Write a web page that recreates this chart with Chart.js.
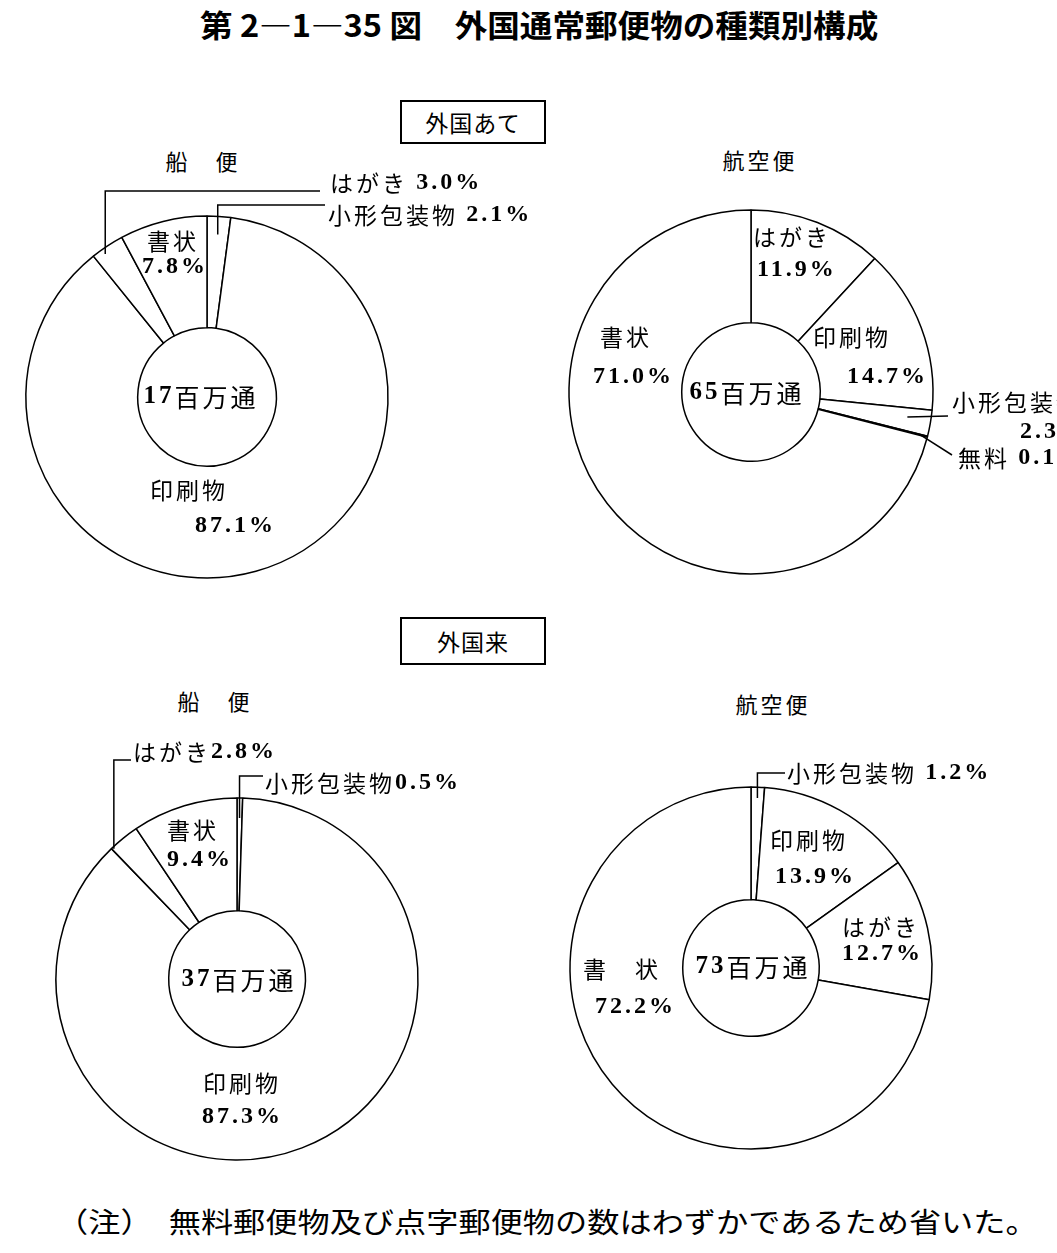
<!DOCTYPE html>
<html lang="ja">
<head>
<meta charset="utf-8">
<title>第2-1-35図 外国通常郵便物の種類別構成</title>
<script src="https://cdn.jsdelivr.net/npm/chart.js@4.4.1/dist/chart.umd.min.js"></script>
<style>
  html, body { margin: 0; padding: 0; background: #fff; }
  body { width: 1057px; height: 1253px; position: relative; overflow: hidden; font-family: "Noto Sans CJK JP", sans-serif; color: #000; }
  .abs { position: absolute; white-space: nowrap; line-height: 1; }
  .fit { transform-origin: 0 50%; }
  .title { left: 200px; top: 8px; font-size: 31px; font-weight: bold; }
  .box { border: 2px solid #000; width: 146px; height: 44px; box-sizing: border-box; display: flex; align-items: center; justify-content: center; font-size: 23px; letter-spacing: 1px; }
  .sub { font-size: 22px; letter-spacing: 3px; transform: translate(-50%, -50%); }
  .note { left: 56px; top: 1207px; font-size: 28px; }
  canvas { position: absolute; }
</style>
</head>
<body>
<div class="abs fit title" data-w="678">第 2—1—35 図　外国通常郵便物の種類別構成</div>
<div class="abs box" style="left:400px;top:100px;">外国あて</div>
<div class="abs box" style="left:400px;top:617px;height:48px;">外国来</div>
<div class="abs sub" style="left:203px;top:160px;">船　便</div>
<div class="abs sub" style="left:760px;top:159px;">航空便</div>
<div class="abs sub" style="left:215px;top:700px;">船　便</div>
<div class="abs sub" style="left:773px;top:703px;">航空便</div>
<canvas id="c1"></canvas>
<canvas id="c2"></canvas>
<canvas id="c3"></canvas>
<canvas id="c4"></canvas>
<div class="abs fit note" data-w="982">（注）　無料郵便物及び点字郵便物の数はわずかであるため省いた。</div>

<script>
// ---- データ（%、時計回り・真上から） ----
// 外国あて・船便
const seaOutCats = ['小形包装物', '印刷物', 'はがき', '書状'];
const seaOutVals = [2.1, 87.1, 3.0, 7.8];
const seaOutTotal = ['17', '百万通'];
// 外国あて・航空便
const airOutCats = ['はがき', '印刷物', '小形包装物', '無料', '書状'];
const airOutVals = [11.9, 14.7, 2.3, 0.1, 71.0];
const airOutTotal = ['65', '百万通'];
// 外国来・船便
const seaInCats = ['小形包装物', '印刷物', 'はがき', '書状'];
const seaInVals = [0.5, 87.3, 2.8, 9.4];
const seaInTotal = ['37', '百万通'];
// 外国来・航空便
const airInCats = ['小形包装物', '印刷物', 'はがき', '書状'];
const airInVals = [1.2, 13.9, 12.7, 72.2];
const airInTotal = ['73', '百万通'];

const NAME_FONT = '23px "Noto Sans CJK JP"';
const NUM_FONT = 'bold 24px "Liberation Serif"';
const CENTER_NAME_FONT = '25px "Noto Sans CJK JP"';
const CENTER_NUM_FONT = 'bold 25px "Liberation Serif"';

// 配置（中心からの相対位置）
const lay1 = {
  L: 0, T: 165, W: 528, H: 435, cx: 207, cy: 397, r: 181, hole: 69, center: [-6, 0],
  items: [
    { i: 3, at: [-60, -156], pct: [-65, -130] },
    { i: 1, at: [-57, 93], pct: [-12, 129] },
    { i: 2, inline: true, gap: ' ', at: [123, -214], leader: { t: 0.32, rf: 0.97, path: [{ v: -206 }, { h: 113 }] } },
    { i: 0, inline: true, gap: ' ', at: [121, -182], leader: { t: 0.5, rf: 0.9, path: [{ v: -192 }, { h: 118 }] } }
  ]
};
const lay2 = {
  L: 528, T: 165, W: 529, H: 435, cx: 751, cy: 392, r: 182, hole: 69, center: [-4, 1],
  items: [
    { i: 0, at: [2, -155], pct: [6, -122] },
    { i: 1, at: [62, -55], pct: [96, -15] },
    { i: 4, at: [-151, -55], pct: [-158, -15] },
    { i: 2, at: [201, 10], pct: [269, 40], leader: { t: 0.4, rf: 0.87, path: [[197, 24]] } },
    { i: 3, inline: true, gap: ' ', at: [207, 66], leader: { t: 0.5, rf: 0.96, path: [[201, 63]] } }
  ]
};
const lay3 = {
  L: 0, T: 725, W: 528, H: 460, cx: 237, cy: 979, r: 181, hole: 68, center: [2, 1],
  items: [
    { i: 3, at: [-70, -149], pct: [-70, -119] },
    { i: 1, at: [-34, 104], pct: [-35, 138] },
    { i: 0, inline: true, gap: '', at: [28, -196], leader: { t: 0.5, rf: 0.89, path: [{ v: -203 }, { h: 26 }] } },
    { i: 2, inline: true, gap: '', at: [-104, -227], leader: { t: 0.05, rf: 0.99, path: [{ v: -219 }, { h: -106 }] } }
  ]
};
const lay4 = {
  L: 528, T: 725, W: 529, H: 460, cx: 751, cy: 968, r: 181, hole: 68, center: [2, -1],
  rename: { 3: '書　状' },
  items: [
    { i: 1, at: [19, -128], pct: [24, -91] },
    { i: 2, at: [91, -41], pct: [91, -14] },
    { i: 3, at: [-168, 1], pct: [-156, 39] },
    { i: 0, inline: true, gap: ' ', at: [36, -195], leader: { t: 0.5, rf: 0.94, path: [{ v: -195 }, { h: 34 }] } }
  ]
};

function drawRun(ctx, x, y, parts, centered) {
  let w = 0;
  parts.forEach(p => { ctx.font = p[1]; w += ctx.measureText(p[0]).width; });
  if (centered) x -= w / 2;
  parts.forEach(p => {
    ctx.font = p[1];
    ctx.fillText(p[0], x, y);
    x += ctx.measureText(p[0]).width;
  });
}

const labelPlugin = {
  id: 'sliceLabels',
  afterDatasetsDraw(chart, args, opts) {
    const ctx = chart.ctx;
    const meta = chart.getDatasetMeta(0);
    const vals = chart.data.datasets[0].data;
    const cats = chart.data.labels;
    const cx = meta.data[0].x, cy = meta.data[0].y;
    ctx.save();
    ctx.fillStyle = '#000';
    ctx.strokeStyle = '#000';
    ctx.lineWidth = 1.5;
    ctx.textBaseline = 'middle';
    ctx.textAlign = 'left';
    if ('letterSpacing' in ctx) ctx.letterSpacing = '3px';
    opts.items.forEach(it => {
      const arc = meta.data[it.i];
      const name = (opts.rename && opts.rename[it.i]) || cats[it.i];
      const pct = vals[it.i].toFixed(1) + '%';
      if (it.leader) {
        const a = arc.startAngle + (arc.endAngle - arc.startAngle) * it.leader.t;
        const rr = arc.outerRadius * it.leader.rf;
        let x = cx + Math.cos(a) * rr, y = cy + Math.sin(a) * rr;
        ctx.beginPath();
        ctx.moveTo(x, y);
        it.leader.path.forEach(p => {
          if (p.v !== undefined) y = cy + p.v;
          else if (p.h !== undefined) x = cx + p.h;
          else { x = cx + p[0]; y = cy + p[1]; }
          ctx.lineTo(x, y);
        });
        ctx.stroke();
      }
      if (it.inline) {
        drawRun(ctx, cx + it.at[0], cy + it.at[1], [[name + it.gap, NAME_FONT], [pct, NUM_FONT]]);
      } else {
        drawRun(ctx, cx + it.at[0], cy + it.at[1], [[name, NAME_FONT]]);
        drawRun(ctx, cx + it.pct[0], cy + it.pct[1], [[pct, NUM_FONT]]);
      }
    });
    const t = opts.total;
    drawRun(ctx, cx + opts.center[0], cy + opts.center[1], [[t[0], CENTER_NUM_FONT], [t[1], CENTER_NAME_FONT]], true);
    ctx.restore();
  }
};

function makeChart(id, lay, cats, vals, total) {
  const cv = document.getElementById(id);
  cv.width = lay.W;
  cv.height = lay.H;
  cv.style.left = lay.L + 'px';
  cv.style.top = lay.T + 'px';
  const pad = {
    left: lay.cx - lay.L - lay.r,
    top: lay.cy - lay.T - lay.r,
    right: lay.L + lay.W - lay.cx - lay.r,
    bottom: lay.T + lay.H - lay.cy - lay.r
  };
  return new Chart(cv, {
    type: 'doughnut',
    data: {
      labels: cats,
      datasets: [{ data: vals, backgroundColor: '#fff', borderColor: '#000', borderWidth: 1.5 }]
    },
    options: {
      responsive: false, animation: false, events: [],
      radius: lay.r, cutout: lay.hole,
      layout: { padding: pad },
      plugins: {
        legend: { display: false },
        tooltip: { enabled: false },
        sliceLabels: { items: lay.items, total, center: lay.center, rename: lay.rename }
      }
    },
    plugins: [labelPlugin]
  });
}

function fitText() {
  document.querySelectorAll('.fit').forEach(el => {
    el.style.transform = `scaleX(${+el.dataset.w / el.offsetWidth})`;
  });
}

makeChart('c1', lay1, seaOutCats, seaOutVals, seaOutTotal);
makeChart('c2', lay2, airOutCats, airOutVals, airOutTotal);
makeChart('c3', lay3, seaInCats, seaInVals, seaInTotal);
makeChart('c4', lay4, airInCats, airInVals, airInTotal);
fitText();
if (document.fonts) document.fonts.ready.then(fitText);
</script>
</body>
</html>
